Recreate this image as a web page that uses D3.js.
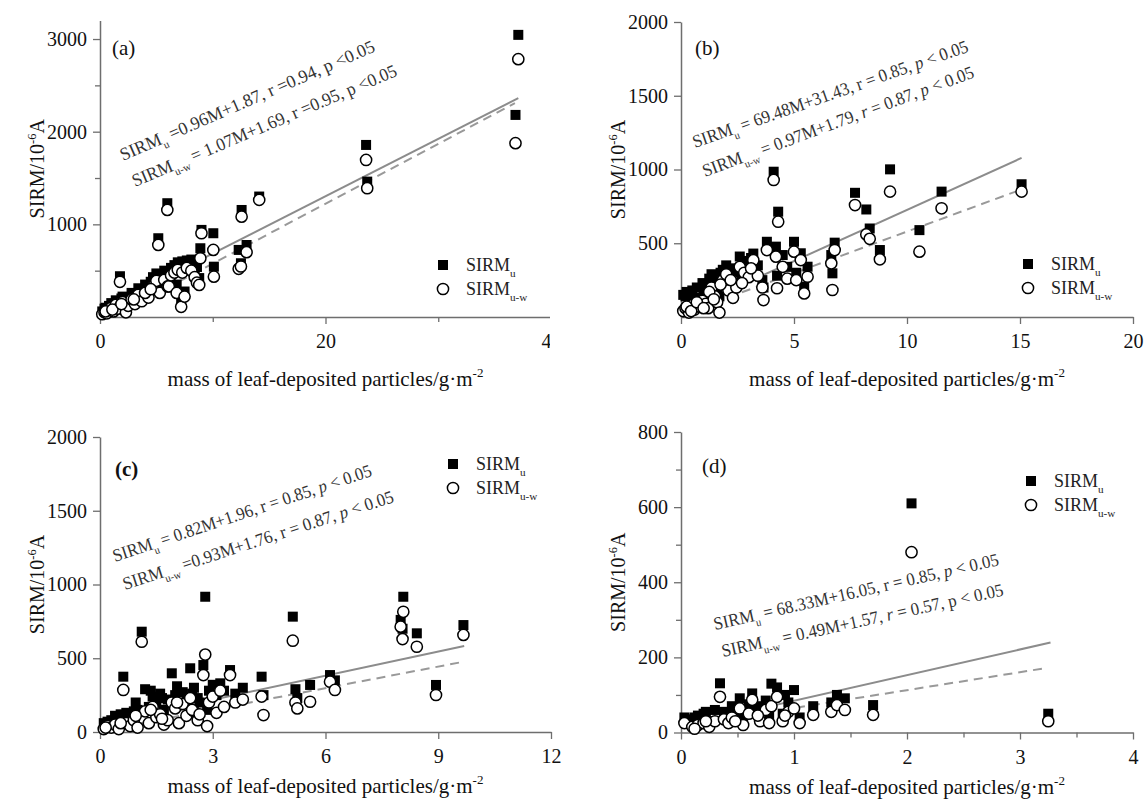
<!DOCTYPE html>
<html>
<head>
<meta charset="utf-8">
<script src="https://cdn.jsdelivr.net/npm/d3@7"></script>
<style>
  body { margin: 0; background: #fff; }
  svg text { font-family: "Liberation Serif", "Times New Roman", serif; }
</style>
</head>
<body>
<svg id="fig" width="1145" height="802"></svg>
<script>
// ---------- (a) ----------
const massA   = [0.2, 0.4, 0.6, 0.8, 1.0, 1.2, 1.4, 1.6, 1.77, 2.0, 2.3, 2.5, 2.8, 3.1, 3.4, 3.7, 4.3, 4.7, 5.0, 5.17, 5.3, 5.7, 5.97, 6.0, 6.1, 6.3, 6.6, 6.8, 6.9, 7.2, 7.3, 7.5, 7.7, 8.1, 8.4, 8.6, 8.8, 8.9, 9.0, 10.05, 10.1, 12.3, 12.5, 12.56, 13.0, 14.12, 23.6, 23.7, 36.85, 37.1,
                 0.5, 1.1, 1.9, 3.0, 4.0, 4.5];
const sirmUA  = [60, 90, 70, 120, 150, 110, 180, 160, 440, 220, 140, 200, 260, 210, 310, 280, 270, 430, 470, 850, 330, 500, 1228, 430, 400, 530, 560, 350, 590, 200, 600, 275, 610, 620, 490, 540, 420, 742, 940, 904, 543, 724, 580, 1155, 777, 1300, 1857, 1461, 2181, 3045,
                 100, 130, 200, 250, 350, 380];
const sirmUWA = [30, 50, 40, 80, 100, 60, 130, 90, 380, 160, 50, 120, 190, 140, 240, 170, 210, 330, 390, 778, 260, 400, 1156, 330, 330, 450, 480, 260, 510, 110, 480, 220, 530, 500, 430, 370, 346, 634, 904, 724, 435, 520, 545, 1083, 700, 1264, 1695, 1390, 1876, 2783,
                 60, 80, 140, 190, 260, 300];

// ---------- (b) ----------
const massB   = [0.1, 0.2, 0.35, 0.5, 0.6, 0.8, 0.95, 1.1, 1.2, 1.35, 1.5, 1.6, 1.7, 1.85, 2.0, 2.1, 2.3, 2.45, 2.6, 2.8, 3.0, 3.2, 3.4, 3.6, 3.65, 3.8, 4.1, 4.2, 4.25, 4.3, 4.5, 4.7, 5.0, 5.1, 5.3, 5.45, 5.6, 6.65, 6.7, 6.8, 7.7, 8.2, 8.35, 8.8, 9.25, 10.55, 11.53, 15.07,
                 0.25, 0.45, 0.7, 1.0, 1.25, 1.45, 1.75, 2.2, 2.7, 3.1];
const sirmUB  = [150, 140, 110, 180, 130, 120, 230, 200, 160, 290, 250, 200, 140, 320, 350, 260, 230, 300, 410, 380, 330, 430, 350, 250, 200, 510, 985, 477, 280, 714, 420, 340, 510, 300, 432, 205, 341, 420, 296, 504, 842, 729, 600, 454, 1001, 589, 850, 900,
                 170, 120, 200, 170, 260, 210, 300, 330, 290, 400];
const sirmUWB = [40, 60, 30, 80, 50, 70, 110, 90, 60, 200, 140, 100, 30, 250, 290, 180, 130, 200, 340, 300, 270, 385, 280, 200, 115, 454, 929, 409, 195, 646, 340, 260, 443, 250, 386, 160, 273, 364, 183, 454, 759, 560, 530, 391, 850, 443, 737, 850,
                 70, 40, 100, 60, 170, 120, 220, 250, 230, 330];

// ---------- (c) ----------
const massC   = [0.1, 0.2, 0.3, 0.4, 0.5, 0.62, 0.7, 0.8, 0.9, 1.0, 1.11, 1.2, 1.3, 1.4, 1.5, 1.6, 1.7, 1.8, 1.91, 2.0, 2.1, 2.2, 2.3, 2.4, 2.5, 2.6, 2.75, 2.8, 2.85, 2.9, 3.0, 3.1, 3.2, 3.3, 3.46, 3.6, 3.8, 4.3, 4.35, 5.13, 5.2, 5.25, 5.59, 6.12, 6.25, 8.0, 8.05, 8.07, 8.43, 8.94, 9.67,
                 0.15, 0.55, 0.95, 1.35, 1.65, 2.05, 2.45, 2.65];
const sirmUC  = [60, 70, 80, 110, 90, 375, 130, 100, 140, 150, 680, 290, 170, 240, 200, 260, 150, 220, 398, 250, 180, 270, 210, 432, 300, 230, 454, 917, 150, 280, 320, 250, 330, 280, 420, 260, 300, 375, 250, 782, 290, 230, 319, 386, 350, 760, 700, 917, 669, 319, 725,
                 50, 120, 200, 280, 230, 310, 260, 200];
const sirmUWC = [20, 40, 30, 50, 20, 285, 60, 40, 80, 30, 612, 140, 60, 170, 100, 120, 50, 80, 200, 160, 60, 190, 110, 230, 140, 80, 386, 525, 40, 200, 240, 130, 280, 170, 386, 200, 220, 240, 115, 619, 200, 160, 205, 341, 285, 714, 630, 815, 578, 251, 658,
                 30, 60, 110, 150, 90, 200, 150, 120];

// ---------- (d) ----------
const massD   = [0.03, 0.1, 0.15, 0.2, 0.25, 0.3, 0.345, 0.38, 0.42, 0.45, 0.52, 0.55, 0.6, 0.63, 0.7, 0.75, 0.8, 0.85, 0.9, 0.95, 1.0, 1.05, 1.17, 1.33, 1.38, 1.45, 1.70, 2.04, 3.25,
                 0.12, 0.22, 0.48, 0.68, 0.78, 0.92];
const sirmUD  = [40, 35, 45, 50, 30, 60, 131, 55, 45, 70, 91, 40, 75, 104, 60, 85, 130, 120, 50, 80, 113, 40, 70, 80, 100, 91, 73, 610, 50,
                 40, 55, 50, 70, 45, 100];
const sirmUWD = [25, 15, 20, 25, 15, 30, 95, 35, 25, 40, 64, 20, 50, 87, 30, 60, 70, 95, 30, 55, 64, 25, 47, 55, 73, 60, 47, 480, 30,
                 10, 30, 30, 45, 25, 45];

// ---------- fitted lines ----------
const fitUA  = [[0.3, 85], [37.1, 2362]];
const fitUWA = [[1.1, 1], [36.8, 2308]];
const coefUB = [69.48, 31.43], spanUB = [0.05, 15.07];
const fitUWB = [[0.2, 27], [15.0, 861]];
const fitUC  = [[0.1, 60], [9.69, 583]];
const fitUWC = [[0.3, 20], [9.69, 477]];
const coefUD = [68.33, 16.05], spanUD = [0.03, 3.27];
const fitUWD = [[0.1, 22], [3.24, 172]];

// ---------- tick labels ----------
const xTicksA = [0, 20, 40],         xMinorA = [10, 30];
const yTicksA = [1000, 2000, 3000],  yMinorA = [500, 1500, 2500];
const xTicksB = [0, 5, 10, 15, 20],  xMinorB = [];
const yTicksB = [500, 1000, 1500, 2000], yMinorB = [];
const xTicksC = [0, 3, 6, 9, 12],    xMinorC = [];
const yTicksC = [0, 500, 1000, 1500, 2000], yMinorC = [];
const xTicksD = [0, 1, 2, 3, 4],     xMinorD = [0.5, 1.5, 2.5, 3.5];
const yTicksD = [0, 200, 400, 600, 800], yMinorD = [100, 300, 500, 700];

// ---------- text ----------
const eqA = ["SIRM_{u} =0.96M+1.87, r =0.94, p <0.05",
             "SIRM_{u-w} = 1.07M+1.69, r =0.95, p <0.05"];
const eqB = ["SIRM_{u} = 69.48M+31.43, r = 0.85, *p* < 0.05",
             "SIRM_{u-w} = 0.97M+1.79, *r* = 0.87, *p* < 0.05"];
const eqC = ["SIRM_{u} = 0.82M+1.96, r = 0.85, *p* < 0.05",
             "SIRM_{u-w} =0.93M+1.76, r = 0.87, *p* < 0.05"];
const eqD = ["SIRM_{u} = 68.33M+16.05, r = 0.85, *p* < 0.05",
             "SIRM_{u-w} = 0.49M+1.57, *r* = 0.57, p < 0.05"];
const seriesNames = ["SIRM_{u}", "SIRM_{u-w}"];
const xTitle = "mass of leaf-deposited particles/g·m^{-2}";
const yTitle = "SIRM/10^{-6}A";

// end points of a fitted line given slope/intercept and mass span
function fromCoef(c, s) { return [[s[0], c[0] * s[0] + c[1]], [s[1], c[0] * s[1] + c[1]]]; }

// ---------- layout ----------
const panels = [
  { label: "(a)", bold: false, mass: massA, u: sirmUA, uw: sirmUWA,
    xDom: [0, 40], xRange: [100, 551], yDom: [0, 3200], yRange: [317, 20.5],
    xTicks: xTicksA, xMinor: xMinorA, yTicks: yTicksA, yMinor: yMinorA,
    fitU: fitUA, fitUW: fitUWA, eq: eqA,
    eqPos: [[123, 161, -23.5, 276], [135, 187, -23, 286]],
    labelPos: [112, 55], legend: [443, 265], clipRight: 550, titleOff: 62 },
  { label: "(b)", bold: false, mass: massB, u: sirmUB, uw: sirmUWB,
    xDom: [0, 20], xRange: [681, 1133], yDom: [0, 2000], yRange: [317, 22],
    xTicks: xTicksB, xMinor: xMinorB, yTicks: yTicksB, yMinor: yMinorB,
    fitU: fromCoef(coefUB, spanUB), fitUW: fitUWB, eq: eqB,
    eqPos: [[695, 148, -19.4, 291], [705, 177, -20.3, 288]],
    labelPos: [695, 55], legend: [1028, 264], clipRight: null, titleOff: 62 },
  { label: "(c)", bold: true, mass: massC, u: sirmUC, uw: sirmUWC,
    xDom: [0, 12], xRange: [100, 551], yDom: [0, 2000], yRange: [732, 437],
    xTicks: xTicksC, xMinor: xMinorC, yTicks: yTicksC, yMinor: yMinorC,
    fitU: fitUC, fitUW: fitUWC, eq: eqC,
    eqPos: [[115, 562, -18.5, 272], [125, 590, -18.1, 284]],
    labelPos: [115, 476], legend: [453, 464], clipRight: null, titleOff: 54 },
  { label: "(d)", bold: false, mass: massD, u: sirmUD, uw: sirmUWD,
    xDom: [0, 4], xRange: [681, 1133], yDom: [0, 800], yRange: [732.5, 432],
    xTicks: xTicksD, xMinor: xMinorD, yTicks: yTicksD, yMinor: yMinorD,
    fitU: fromCoef(coefUD, spanUD), fitUW: fitUWD, eq: eqD,
    eqPos: [[715, 630, -12.85, 292], [723, 657, -12.35, 288]],
    labelPos: [702, 473], legend: [1031, 481], clipRight: null, titleOff: 54 }
];

const svg = d3.select("#fig");
const AXIS = "#6e6e6e";

// writes a string with _{sub}, ^{sup} and *italic* markup into a text element
function rich(textSel, str, fs) {
  const parts = str.split(/(_\{[^}]*\}|\^\{[^}]*\}|\*[^*]*\*)/).filter(s => s.length);
  let shift = 0;
  parts.forEach(p => {
    const ts = textSel.append("tspan");
    let t = p, s = 0;
    if (p.startsWith("_{")) { t = p.slice(2, -1); s = 0.32 * fs; ts.attr("font-size", fs * 0.62); }
    else if (p.startsWith("^{")) { t = p.slice(2, -1); s = -0.42 * fs; ts.attr("font-size", fs * 0.62); }
    else if (p.startsWith("*")) { t = p.slice(1, -1); ts.attr("font-style", "italic"); }
    ts.attr("dy", s - shift).text(t);
    shift = s;
  });
}

const defs = svg.append("defs");

panels.forEach((P, i) => {
  const g = svg.append("g");
  const x = d3.scaleLinear().domain(P.xDom).range(P.xRange);
  const y = d3.scaleLinear().domain(P.yDom).range(P.yRange);
  const bottom = P.yRange[0];

  // fitted regression lines
  const lg = d3.line().x(d => x(d[0])).y(d => y(d[1]));
  g.append("path").attr("d", lg(P.fitU)).attr("fill", "none")
    .attr("stroke", "#8c8c8c").attr("stroke-width", 2);
  g.append("path").attr("d", lg(P.fitUW)).attr("fill", "none")
    .attr("stroke", "#999").attr("stroke-width", 2).attr("stroke-dasharray", "9,6");

  // axes
  const ax = g.append("g").attr("transform", `translate(0,${bottom})`);
  if (P.clipRight) {
    defs.append("clipPath").attr("id", "clipx" + i).append("rect")
      .attr("x", 0).attr("y", -20).attr("width", P.clipRight).attr("height", 80);
    ax.attr("clip-path", `url(#clipx${i})`);
  }
  ax.call(d3.axisBottom(x).tickValues(P.xTicks).tickSize(7).tickSizeOuter(0).tickPadding(6)
    .tickFormat(d3.format("d")));
  if (P.xMinor.length) {
    const m = g.append("g").attr("transform", `translate(0,${bottom})`)
      .call(d3.axisBottom(x).tickValues(P.xMinor).tickSize(5).tickFormat(""));
    m.select(".domain").remove();
    m.selectAll("line").attr("stroke", AXIS).attr("stroke-width", 1.3);
  }
  const ay = g.append("g").attr("transform", `translate(${P.xRange[0]},0)`)
    .call(d3.axisLeft(y).tickValues(P.yTicks).tickSize(7).tickSizeOuter(0).tickPadding(6)
      .tickFormat(d3.format("d")));
  if (P.yMinor.length) {
    const m = g.append("g").attr("transform", `translate(${P.xRange[0]},0)`)
      .call(d3.axisLeft(y).tickValues(P.yMinor).tickSize(5).tickFormat(""));
    m.select(".domain").remove();
    m.selectAll("line").attr("stroke", AXIS).attr("stroke-width", 1.3);
  }
  [ax, ay].forEach(a => {
    a.select(".domain").attr("stroke", AXIS).attr("stroke-width", 1.5);
    a.selectAll(".tick line").attr("stroke", AXIS).attr("stroke-width", 1.3);
    a.selectAll(".tick text").attr("font-size", 20).attr("fill", "#111")
      .attr("font-family", "Liberation Serif, serif");
  });
  ax.selectAll(".tick text").attr("dy", "0.9em");

  // axis titles
  const xt = g.append("text").attr("x", (P.xRange[0] + P.xRange[1]) / 2)
    .attr("y", bottom + P.titleOff + 7).attr("text-anchor", "middle")
    .attr("font-size", 21).attr("fill", "#111");
  rich(xt, xTitle, 21);
  const yc = (P.yRange[0] + P.yRange[1]) / 2;
  const yt = g.append("text").attr("text-anchor", "middle").attr("font-size", 20).attr("fill", "#111")
    .attr("transform", `translate(${P.xRange[0] - 56},${yc}) rotate(-90)`);
  rich(yt, yTitle, 20);

  // markers: filled squares for SIRMu, open circles for SIRMu-w
  const pts = P.mass.map((m, k) => ({ m, u: P.u[k], uw: P.uw[k] }));
  g.append("g").selectAll("rect").data(pts).join("rect")
    .attr("x", d => x(d.m) - 5).attr("y", d => y(d.u) - 5)
    .attr("width", 10).attr("height", 10).attr("fill", "#000");
  g.append("g").selectAll("circle").data(pts).join("circle")
    .attr("cx", d => x(d.m)).attr("cy", d => y(d.uw)).attr("r", 5.6)
    .attr("fill", "#fff").attr("stroke", "#000").attr("stroke-width", 1.5);

  // regression equations
  P.eq.forEach((s, k) => {
    const [ex, ey, ang, len] = P.eqPos[k];
    const t = g.append("text").attr("font-size", 18).attr("fill", "#333")
      .attr("transform", `translate(${ex},${ey}) rotate(${ang})`)
      .attr("textLength", len).attr("lengthAdjust", "spacingAndGlyphs");
    rich(t, s, 18);
  });

  // panel label
  g.append("text").attr("x", P.labelPos[0]).attr("y", P.labelPos[1])
    .attr("font-size", 21).attr("font-weight", P.bold ? "bold" : "normal").attr("fill", "#111")
    .text(P.label);

  // legend
  const [lx, ly] = P.legend;
  g.append("rect").attr("x", lx - 5).attr("y", ly - 5).attr("width", 10).attr("height", 10).attr("fill", "#000");
  g.append("circle").attr("cx", lx).attr("cy", ly + 24).attr("r", 5.6)
    .attr("fill", "#fff").attr("stroke", "#000").attr("stroke-width", 1.5);
  seriesNames.forEach((s, k) => {
    const t = g.append("text").attr("x", lx + 23).attr("y", ly + 6 + k * 24)
      .attr("font-size", 18).attr("fill", "#222");
    rich(t, s, 18);
  });
});
</script>
</body>
</html>
